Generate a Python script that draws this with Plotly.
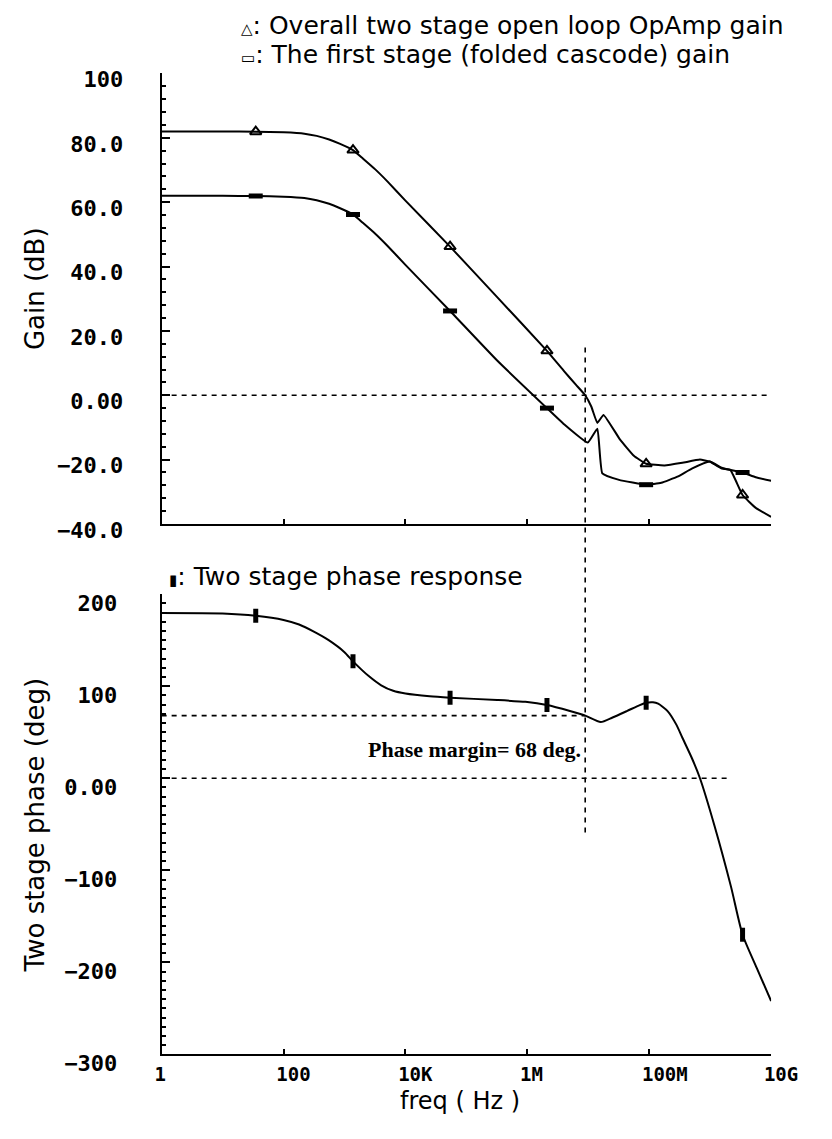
import math
import plotly.graph_objects as go

# ---------------- data ----------------
# Overall two-stage open-loop gain (dB) vs frequency (Hz)
overall_freq = [1, 10, 35, 100, 220, 350, 560, 830, 1380, 2000, 3200, 5100, 1e4,
                5.4e4, 3.2e5, 2.1e6, 4e6, 6.3e6, 8.9e6, 1.12e7, 1.41e7, 1.78e7,
                3.3e7, 5.6e7, 8.9e7, 1.78e8, 3.5e8, 6.8e8, 9.8e8, 1.26e9, 1.58e9,
                2.14e9, 3.4e9, 5.6e9, 1e10]
overall_gain = [82.0, 82.0, 81.9, 81.7, 81.3, 80.6, 79.5, 78.2, 76.2, 73.6, 70.2, 66.4, 60.5,
                46.2, 30.5, 13.8, 7.5, 3.2, 0.0, -3.5, -8.6, -6.1,
                -13.7, -18.8, -21.3, -21.8, -21.0, -20.0, -20.6, -21.8, -22.8,
                -23.2, -31.0, -35.0, -37.8]

# First stage (folded cascode) gain (dB)
first_freq = [1, 10, 35, 100, 220, 350, 560, 830, 1380, 2000, 3200, 5100, 1e4,
              5.4e4, 3.2e5, 2.1e6, 4e6, 9.8e6, 1.41e7, 1.7e7, 3.2e7, 8.9e7,
              1.58e8, 2.9e8, 5e8, 9.8e8, 1.58e9, 3.4e9, 5.6e9, 1e10]
first_gain = [62.0, 62.0, 61.9, 61.7, 61.3, 60.6, 59.5, 58.2, 56.2, 53.6, 50.2, 46.4, 40.5,
              26.2, 10.8, -4.0, -9.0, -14.7, -10.4, -24.3, -26.3, -27.8,
              -27.2, -25.3, -22.8, -20.6, -22.6, -24.0, -25.5, -26.6]

# Two stage phase response (deg)
phase_freq = [1, 10, 35, 100, 180, 320, 550, 1000, 1380, 2500, 4000, 6300, 1e4,
              2.5e4, 5.4e4, 3.2e5, 9.3e5, 2.1e6, 5e6, 8.9e6, 1.6e7, 2.5e7, 4.3e7,
              7e7, 8.9e7, 1.15e8, 1.4e8, 2e8, 2.8e8, 3.5e8, 5e8, 6.8e8, 1.17e9,
              2.2e9, 3.4e9, 5.8e9, 1e10]
phase_deg = [179.5, 179.0, 176.5, 172.0, 167.0, 159.0, 150.0, 137.0, 127.0, 111.0, 101.0, 95.0, 92.0,
             89.0, 87.5, 85.0, 83.0, 79.5, 73.0, 68.0, 61.0, 66.0, 73.0,
             79.5, 82.0, 82.5, 81.0, 73.0, 58.0, 44.0, 22.0, 0.0, -51.0,
             -118.0, -170.0, -206.0, -242.0]

# Marker positions
marker_freq = [35, 1380, 5.4e4, 2.1e6, 8.9e7, 3.4e9]
overall_marker_gain = [81.9, 76.2, 46.2, 13.8, -21.3, -31.0]
first_marker_gain = [61.9, 56.2, 26.2, -4.0, -27.8, -24.0]
phase_marker_deg = [176.5, 127.0, 87.5, 79.5, 82.0, -170.0]

# Reference lines
unity_freq = 8.9e6          # unity-gain frequency
phase_margin = 68
zero_phase_end = 2.2e9
freq_range = [1, 1e10]

# Axis ticks
freq_tickvals = [1, 100, 1e4, 1e6, 1e8, 1e10]
freq_ticktext = ["1", "100", "10K", "1M", "100M", "10G"]
gain_tickvals = [100, 80, 60, 40, 20, 0, -20, -40]
gain_ticktext = ["100", "80.0", "60.0", "40.0", "20.0", "0.00", "\u221220.0", "\u221240.0"]
phase_tickvals = [200, 100, 0, -100, -200, -300]
phase_ticktext = ["200", "100", "0.00", "\u2212100", "\u2212200", "\u2212300"]

# ---------------- layout helpers ----------------
PAGE_W, PAGE_H = 832, 1139
BODY = 8                      # default page body margin around the figure
W, H = PAGE_W - 2 * BODY, PAGE_H - 2 * BODY   # figure fills the window exactly


def px(x):
    """page pixel -> paper fraction"""
    return (x - BODY) / W


def py(y):
    return 1 - (y - BODY) / H


SANS = "DejaVu Sans"
MONO = "DejaVu Sans Mono"
LINE = dict(color="black", width=2, shape="spline", smoothing=0.35)
DASH = dict(color="black", width=1.6, dash="5px,5px")

fig = go.Figure()

# Gain panel
fig.add_trace(go.Scatter(x=freq_range, y=[0, 0], mode="lines", line=DASH,
                         xaxis="x", yaxis="y", hoverinfo="skip"))
fig.add_trace(go.Scatter(x=overall_freq, y=overall_gain, mode="lines", line=LINE,
                         xaxis="x", yaxis="y", name="overall"))
fig.add_trace(go.Scatter(x=first_freq, y=first_gain, mode="lines", line=LINE,
                         xaxis="x", yaxis="y", name="first"))
fig.add_trace(go.Scatter(x=marker_freq, y=overall_marker_gain, mode="markers",
                         marker=dict(symbol="triangle-up-open", size=10, color="black",
                                     line=dict(width=2, color="black")),
                         xaxis="x", yaxis="y"))
fig.add_trace(go.Scatter(x=marker_freq, y=first_marker_gain, mode="markers",
                         marker=dict(symbol="line-ew", size=10, color="black",
                                     line=dict(width=5, color="black")),
                         xaxis="x", yaxis="y"))

# Phase panel
fig.add_trace(go.Scatter(x=[freq_range[0], unity_freq], y=[phase_margin, phase_margin],
                         mode="lines", line=DASH, xaxis="x2", yaxis="y2"))
fig.add_trace(go.Scatter(x=[freq_range[0], zero_phase_end], y=[0, 0],
                         mode="lines", line=DASH, xaxis="x2", yaxis="y2"))
fig.add_trace(go.Scatter(x=phase_freq, y=phase_deg, mode="lines",
                         line=dict(color="black", width=2, shape="spline", smoothing=0.6),
                         xaxis="x2", yaxis="y2"))
fig.add_trace(go.Scatter(x=marker_freq, y=phase_marker_deg, mode="markers",
                         marker=dict(symbol="line-ns", size=10, color="black",
                                     line=dict(width=5, color="black")),
                         xaxis="x2", yaxis="y2"))

# vertical dashed line at unity-gain frequency, spanning both panels
fig.add_shape(type="line", xref="x2", yref="paper", x0=unity_freq, x1=unity_freq,
              y0=py(350), y1=py(850), line=DASH, layer="above")

xdom = [px(161), px(797)]
common_x = dict(type="log", range=[0, 10], domain=xdom, showline=True, linecolor="black",
                linewidth=2, showgrid=False, zeroline=False, ticks="inside", ticklen=5,
                tickwidth=1.5, tickcolor="black", tickvals=freq_tickvals, ticktext=freq_ticktext)
common_y = dict(showline=True, linecolor="black", linewidth=2, showgrid=False, zeroline=False,
                ticks="inside", ticklen=8, tickwidth=1.5, tickcolor="black",
                tickfont=dict(family=MONO, size=22, color="black", weight="bold"))

fig.update_layout(
    width=W, height=H, margin=dict(l=0, r=0, t=0, b=0),
    paper_bgcolor="white", plot_bgcolor="white", showlegend=False,
    xaxis=dict(common_x, anchor="y", showticklabels=False),
    yaxis=dict(common_y, anchor="x", domain=[py(531), py(69)], range=[-40, 100],
               tickvals=gain_tickvals, ticktext=gain_ticktext,
               ticklabelstandoff=32, ticklabelshift=6,
               minor=dict(dtick=4, tick0=0, ticks="inside", ticklen=4, tickcolor="black")),
    xaxis2=dict(common_x, anchor="y2", showticklabels=True,
                tickfont=dict(family=MONO, size=19, color="black", weight="bold"),
                ticklabelposition="outside right", ticklabelshift=-9,
                ticklabeloverflow="allow", ticklabelstandoff=2),
    yaxis2=dict(common_y, anchor="x2", domain=[py(1075), py(603)], range=[-300, 200],
                tickvals=phase_tickvals, ticktext=phase_ticktext,
                ticklabelstandoff=38, ticklabelshift=9,
                minor=dict(dtick=10, tick0=0, ticks="inside", ticklen=4, tickcolor="black")),
)

LEG = dict(family=SANS, size=25, color="black")
ann = [
    dict(x=px(243), y=py(20), text="<span style='font-size:15px'>\u25b3</span>: Overall two stage open loop OpAmp gain"),
    dict(x=px(243), y=py(50), text="<span style='font-size:15px'>\u25ad</span>: The first stage (folded cascode) gain"),
    dict(x=px(168), y=py(585), text="<span style='font-size:15px'>\u25ae</span>: Two stage phase response"),
]
for a in ann:
    fig.add_annotation(xref="paper", yref="paper", xanchor="left", yanchor="middle",
                       showarrow=False, font=LEG, borderpad=0, **a)

TITLE = dict(family=SANS, size=26, color="black")
fig.add_annotation(xref="paper", yref="paper", x=px(29), y=py(290), text="Gain (dB)",
                   textangle=-90, showarrow=False, font=TITLE, xanchor="center", yanchor="middle")
fig.add_annotation(xref="paper", yref="paper", x=px(29), y=py(840), text="Two stage phase (deg)",
                   textangle=-90, showarrow=False, font=TITLE, xanchor="center", yanchor="middle")
fig.add_annotation(xref="paper", yref="paper", x=px(472), y=py(1123), text="freq ( Hz )",
                   showarrow=False, font=dict(family=SANS, size=24, color="black"),
                   xanchor="center", yanchor="middle", borderpad=0)

fig.add_annotation(xref="x2", yref="y2", x=math.log10(unity_freq), y=31,
                   text="<b>Phase margin= 68 deg.</b>", showarrow=False,
                   xanchor="right", yanchor="middle", xshift=-2,
                   font=dict(family="Liberation Serif", size=22, color="black"))

fig.write_html("out.html")
